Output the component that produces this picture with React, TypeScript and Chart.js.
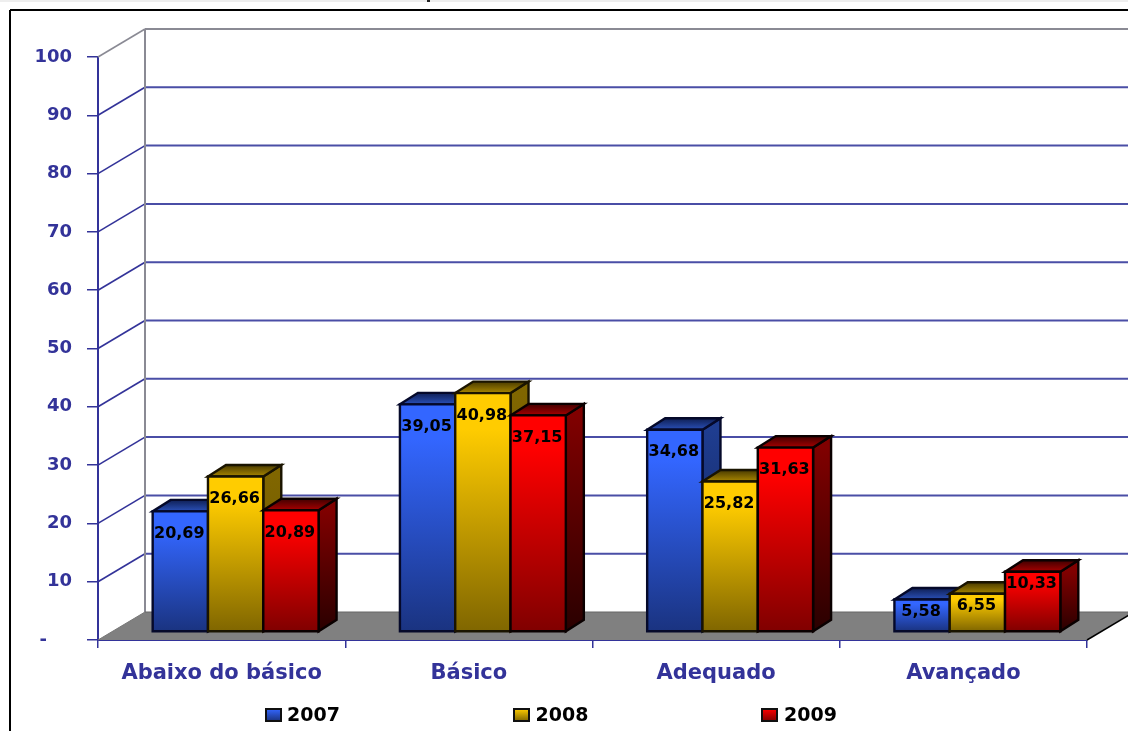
import React, { useEffect, useRef } from "react";
import { Chart, registerables } from "chart.js";

Chart.register(...registerables);

const categories = ["Abaixo do básico", "Básico", "Adequado", "Avançado"];
const years = ["2007", "2008", "2009"];
const values2007 = [20.69, 39.05, 34.68, 5.58];
const values2008 = [26.66, 40.98, 25.82, 6.55];
const values2009 = [20.89, 37.15, 31.63, 10.33];

const AXIS_BLUE = "#333399";
const GRID_BLUE = "#4a4ea6";
const WALL_GREY = "#8a8a94";
const FONT = '"DejaVu Sans", Verdana, sans-serif';

// Full tone, bottom tone and the darker tones of the top and side faces per series.
const palettes = [
  { front: "#3366ff", bottom: "#1a3380", topBack: "#0f1f55", topFront: "#2a50b8", sideTop: "#1f3d90", sideBottom: "#0f1f50", edge: "#05092a" },
  { front: "#ffcc00", bottom: "#806600", topBack: "#4a3b00", topFront: "#a88600", sideTop: "#806600", sideBottom: "#6a5500", edge: "#1a1400" },
  { front: "#ff0000", bottom: "#800000", topBack: "#400000", topFront: "#a80000", sideTop: "#800000", sideBottom: "#2a0000", edge: "#0a0000" },
];

// Oblique projection of the chart's depth.
const WALL_DX = 47;
const WALL_DY = -28;
const BAR_SHIFT_X = 14;
const BAR_SHIFT_Y = -8;
const BAR_DX = 18;
const BAR_DY = -11.5;

function polygon(ctx: CanvasRenderingContext2D, pts: number[][], fill: any, stroke: string | null, lw = 2.4) {
  ctx.beginPath();
  pts.forEach((p, i) => (i ? ctx.lineTo(p[0], p[1]) : ctx.moveTo(p[0], p[1])));
  ctx.closePath();
  ctx.fillStyle = fill;
  ctx.fill();
  if (stroke) {
    ctx.strokeStyle = stroke;
    ctx.lineWidth = lw;
    ctx.lineJoin = "miter";
    ctx.stroke();
  }
}

function line(ctx: CanvasRenderingContext2D, x1: number, y1: number, x2: number, y2: number, color: string, lw: number) {
  ctx.beginPath();
  ctx.moveTo(x1, y1);
  ctx.lineTo(x2, y2);
  ctx.strokeStyle = color;
  ctx.lineWidth = lw;
  ctx.stroke();
}

const pageFrame = {
  id: "pageFrame",
  beforeDraw(chart: any) {
    const { ctx, width, height } = chart;
    ctx.save();
    ctx.fillStyle = "#ffffff";
    ctx.fillRect(0, 0, width, height);
    ctx.fillStyle = "#eeeeee";
    ctx.fillRect(0, 0, width, 2);
    ctx.fillStyle = "#222222";
    ctx.fillRect(427, 0, 3, 2);
    line(ctx, 10, 10, width, 10, "#000000", 2);
    line(ctx, 10, 10, 10, height, "#000000", 2);
    ctx.restore();
  },
};

// Back wall, side wall and floor, positioned from the value scale.
const walls = {
  id: "walls",
  beforeDatasetsDraw(chart: any) {
    const { ctx, chartArea } = chart;
    const y = chart.scales.y;
    const { left, right } = chartArea;
    ctx.save();
    y.ticks.forEach((t: any) => {
      const py = y.getPixelForValue(t.value);
      if (t.value === 0) return;
      const color = t.value === 100 ? WALL_GREY : GRID_BLUE;
      line(ctx, left, py, left + WALL_DX, py + WALL_DY, t.value === 100 ? WALL_GREY : AXIS_BLUE, 1.6);
      line(ctx, left + WALL_DX, py + WALL_DY, right + WALL_DX, py + WALL_DY, color, 2);
    });
    const base = y.getPixelForValue(0);
    const top = y.getPixelForValue(100);
    line(ctx, left + WALL_DX, top + WALL_DY, left + WALL_DX, base + WALL_DY, WALL_GREY, 2);
    polygon(
      ctx,
      [
        [left, base],
        [left + WALL_DX, base + WALL_DY],
        [right + WALL_DX, base + WALL_DY],
        [right, base],
      ],
      "#808080",
      null
    );
    line(ctx, left, base, left + WALL_DX, base + WALL_DY, "#777777", 1);
    line(ctx, left + WALL_DX, base + WALL_DY, right + WALL_DX, base + WALL_DY, "#666666", 1);
    line(ctx, right, base, right + WALL_DX, base + WALL_DY, "#000000", 1.5);
    ctx.restore();
  },
};

// Each bar element is drawn as a shaded box; its geometry comes from the bar element itself.
const boxes = {
  id: "boxes",
  beforeDatasetsDraw(chart: any) {
    const { ctx } = chart;
    ctx.save();
    const n = chart.data.labels.length;
    for (let c = 0; c < n; c++) {
      chart.data.datasets.forEach((ds: any, d: number) => {
        const bar = chart.getDatasetMeta(d).data[c];
        const p = palettes[d];
        const x0 = bar.x - bar.width / 2 + BAR_SHIFT_X;
        const x1 = bar.x + bar.width / 2 + BAR_SHIFT_X;
        const top = bar.y + BAR_SHIFT_Y;
        const bottom = bar.base + BAR_SHIFT_Y;

        const side = ctx.createLinearGradient(0, top, 0, bottom);
        side.addColorStop(0, p.sideTop);
        side.addColorStop(1, p.sideBottom);
        polygon(ctx, [[x1, top], [x1 + BAR_DX, top + BAR_DY], [x1 + BAR_DX, bottom + BAR_DY], [x1, bottom]], side, p.edge);

        const cap = ctx.createLinearGradient(0, top + BAR_DY, 0, top);
        cap.addColorStop(0, p.topBack);
        cap.addColorStop(1, p.topFront);
        polygon(ctx, [[x0, top], [x0 + BAR_DX, top + BAR_DY], [x1 + BAR_DX, top + BAR_DY], [x1, top]], cap, p.edge);

        const front = ctx.createLinearGradient(0, top, 0, bottom);
        front.addColorStop(0, p.front);
        front.addColorStop(0.15, p.front);
        front.addColorStop(1, p.bottom);
        polygon(ctx, [[x0, top], [x1, top], [x1, bottom], [x0, bottom]], front, p.edge);
      });
    }
    ctx.restore();
    return false;
  },
};

// Value labels inside the bars, and the legend row under the axis.
const annotations = {
  id: "annotations",
  afterDraw(chart: any) {
    const { ctx } = chart;
    ctx.save();
    ctx.font = `bold 16px ${FONT}`;
    ctx.fillStyle = "#000000";
    ctx.textAlign = "center";
    ctx.textBaseline = "middle";
    chart.data.datasets.forEach((ds: any, d: number) => {
      chart.getDatasetMeta(d).data.forEach((bar: any, c: number) => {
        const h = bar.base - bar.y;
        const drop = h < 70 ? 12.5 : 22.5;
        const text = ds.data[c].toFixed(2).replace(".", ",");
        ctx.fillText(text, bar.x + BAR_SHIFT_X - 1, bar.y + BAR_SHIFT_Y + drop);
      });
    });

    ctx.font = `bold 19px ${FONT}`;
    ctx.textAlign = "left";
    chart.data.datasets.forEach((ds: any, d: number) => {
      const x = 266 + d * 248;
      const g = ctx.createLinearGradient(0, 709, 0, 721);
      g.addColorStop(0, palettes[d].front);
      g.addColorStop(1, palettes[d].bottom);
      polygon(ctx, [[x, 709], [x + 15, 709], [x + 15, 721], [x, 721]], g, "#101010", 2);
      ctx.fillStyle = "#000000";
      ctx.fillText(ds.label, x + 21 + d * 0.5, 716);
    });
    ctx.restore();
  },
};

export default function App() {
  const ref = useRef<HTMLCanvasElement | null>(null);

  useEffect(() => {
    document.body.style.margin = "0";
    const chart = new Chart(ref.current!, {
      type: "bar",
      data: {
        labels: categories,
        datasets: [values2007, values2008, values2009].map((data, d) => ({
          label: years[d],
          data,
          backgroundColor: palettes[d].front,
          barPercentage: 1,
          categoryPercentage: 0.671,
        })),
      },
      plugins: [pageFrame, walls, boxes, annotations],
      options: {
        animation: false,
        responsive: false,
        layout: { padding: { top: 57, right: 41, left: 0, bottom: 38 } },
        scales: {
          x: {
            grid: { offset: true, drawOnChartArea: false, drawTicks: true, tickLength: 8, color: AXIS_BLUE, lineWidth: 1.5 },
            border: { color: AXIS_BLUE, width: 2 },
            ticks: { color: AXIS_BLUE, font: { family: FONT, weight: "bold", size: 21 }, padding: 13, maxRotation: 0 },
            afterFit(scale: any) {
              scale.height = 53;
            },
          },
          y: {
            min: 0,
            max: 100,
            grid: { drawOnChartArea: false, drawTicks: true, tickLength: 11, color: AXIS_BLUE, lineWidth: 1.5 },
            border: { color: AXIS_BLUE, width: 2 },
            ticks: {
              stepSize: 10,
              color: AXIS_BLUE,
              padding: 15,
              font: { family: FONT, weight: "bold", size: 18 },
              callback: (v: any) => (v === 0 ? "-    " : String(v)),
            },
            afterFit(scale: any) {
              scale.width = 98;
            },
          },
        },
        plugins: {
          title: { display: false },
          tooltip: { enabled: false },
          legend: { display: false },
        },
      },
    } as any);
    return () => chart.destroy();
  }, []);

  return <canvas ref={ref} width={1128} height={731} style={{ display: "block" }} />;
}
